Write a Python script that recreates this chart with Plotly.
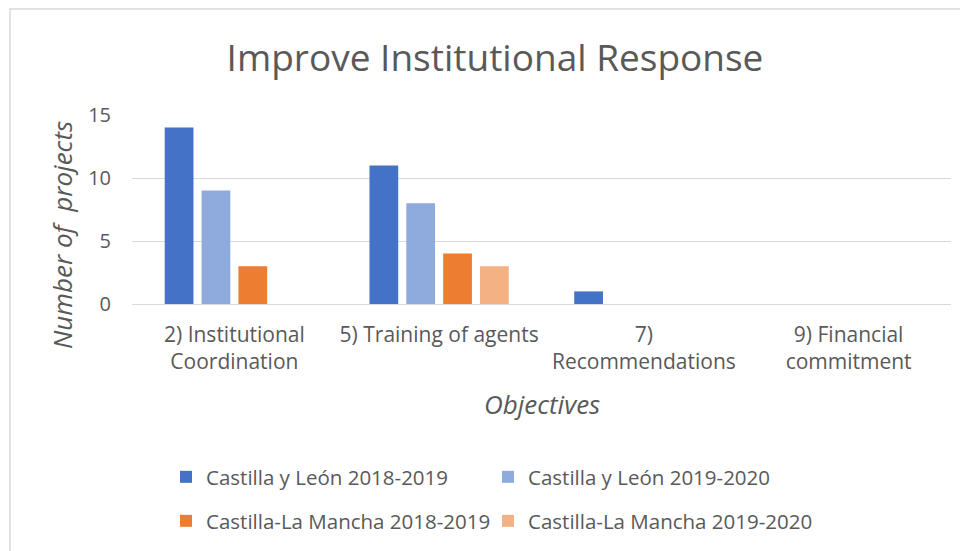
import plotly.graph_objects as go

categories = ["2) Institutional<br>Coordination", "5) Training of agents", "7)<br>Recommendations", "9) Financial<br>commitment"]
series_names = ["Castilla y León 2018-2019", "Castilla y León 2019-2020",
                "Castilla-La Mancha 2018-2019", "Castilla-La Mancha 2019-2020"]
cyl_2018 = [14, 11, 1, 0]
cyl_2019 = [9, 8, 0, 0]
clm_2018 = [3, 4, 0, 0]
clm_2019 = [0, 3, 0, 0]
colors = ["#4472C4", "#8FAADC", "#ED7D31", "#F4B183"]
y_ticks = [0, 5, 10, 15]

W, H = 968, 551
OFF = 8  # page body margin offset
SX0, SX1, SY0, SY1 = 132, 951, 115, 304
L = SX0 - OFF
R = W - (SX1 - OFF)
T = SY0 - OFF
B = H - (SY1 - OFF)
pw = W - L - R
ph = H - T - B

FONT = "Open Sans"
GREY = "#595959"

def px(x):
    return (x - OFF - L) / pw

def py(y):
    return (H - B - (y - OFF)) / ph

fig = go.Figure()
values = [cyl_2018, cyl_2019, clm_2018, clm_2019]
legend_ids = ["legend", "legend2", "legend3", "legend4"]
for name, vals, col, lg in zip(series_names, values, colors, legend_ids):
    fig.add_trace(go.Bar(x=categories, y=vals, name=name, marker_color=col,
                         marker_line_width=0, legend=lg))

leg_pos = [(166, 477), (488, 477), (166, 521), (488, 521)]
leg_layout = {}
for lg, (lx, ly) in zip(legend_ids, leg_pos):
    leg_layout[lg] = dict(x=px(lx), y=py(ly), xanchor="left", yanchor="middle",
                          font=dict(family=FONT, size=20.5, color=GREY),
                          bgcolor="rgba(0,0,0,0)", borderwidth=0)

fig.update_layout(
    width=W, height=H,
    margin=dict(l=L, r=R, t=T, b=B),
    paper_bgcolor="white", plot_bgcolor="white",
    barmode="group", bargap=0.28, bargroupgap=0.22,
    showlegend=True,
    title=dict(text="Improve Institutional Response", x=(495 - OFF) / W, xanchor="center",
               y=1 - (58 - OFF) / H, yanchor="middle",
               font=dict(family=FONT, size=37, color=GREY)),
    font=dict(family=FONT, color=GREY),
    **leg_layout,
)
fig.update_xaxes(tickfont=dict(family=FONT, size=21, color=GREY), showline=False,
                 ticks="", showgrid=False, ticklabelstandoff=16)
fig.update_yaxes(range=[0, 15], tickvals=y_ticks, tickfont=dict(family=FONT, size=20, color=GREY),
                 showgrid=True, gridcolor="#D9D9D9", gridwidth=1, zeroline=True,
                 zerolinecolor="#D9D9D9", zerolinewidth=1, showline=False, ticks="",
                 ticklabelstandoff=20)

fig.add_annotation(text="Number of  projects", textangle=-90, xref="paper", yref="paper",
                   x=px(62), y=py(235), xanchor="center", yanchor="middle", showarrow=False,
                   font=dict(family=FONT, size=26, color=GREY, style="italic"))
fig.add_annotation(text="Objectives", xref="paper", yref="paper",
                   x=px(542), y=py(404), xanchor="center", yanchor="middle", showarrow=False,
                   font=dict(family=FONT, size=26, color=GREY, style="italic"))

fig.add_shape(type="rect", xref="paper", yref="paper", x0=px(10), x1=px(1000), y0=py(580), y1=py(9),
              line=dict(color="#D9D9D9", width=1.5), fillcolor="rgba(0,0,0,0)", layer="below")

fig.write_html("out.html")
